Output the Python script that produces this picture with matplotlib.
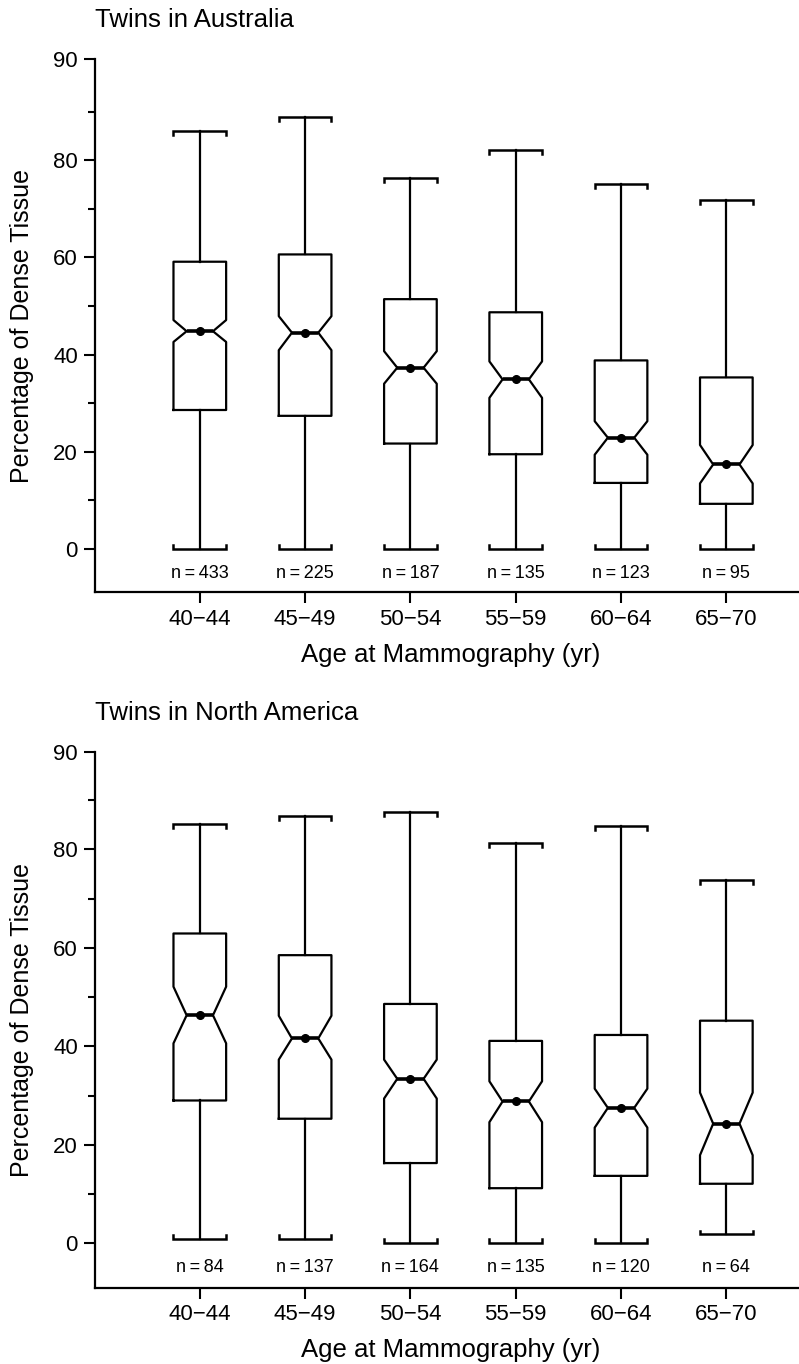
import matplotlib.pyplot as plt
import numpy as np

plt.rcParams['font.family'] = ['Liberation Sans', 'DejaVu Sans']

ages = ['40\u221244', '45\u221249', '50\u221254', '55\u221259', '60\u221264', '65\u221270']

# Twins in Australia
aus_n = [433, 225, 187, 135, 123, 95]
aus_low = [0.0, 0.0, 0.0, 0.0, 0.0, 0.0]
aus_q1 = [28.6, 27.4, 21.7, 19.5, 13.6, 9.3]
aus_ci_lo = [42.6, 40.9, 34.0, 31.1, 19.4, 13.5]
aus_med = [44.8, 44.5, 37.3, 34.9, 22.9, 17.4]
aus_ci_hi = [47.1, 47.9, 40.7, 38.6, 26.3, 21.4]
aus_q3 = [59.1, 60.6, 51.4, 48.7, 38.8, 35.3]
aus_high = [86.0, 88.9, 76.4, 82.1, 75.0, 71.8]

# Twins in North America
na_n = [84, 137, 164, 135, 120, 64]
na_low = [0.8, 0.8, 0.1, 0.1, 0.1, 1.8]
na_q1 = [29.0, 25.3, 16.3, 11.2, 13.7, 12.1]
na_ci_lo = [40.6, 37.3, 29.4, 24.6, 23.5, 17.9]
na_med = [46.3, 41.6, 33.4, 28.8, 27.5, 24.3]
na_ci_hi = [52.1, 46.2, 37.3, 32.9, 31.4, 30.6]
na_q3 = [62.9, 58.5, 48.6, 41.1, 42.3, 45.2]
na_high = [85.1, 86.8, 87.6, 81.3, 84.8, 73.8]

W = 799 / 100
H = 1364 / 100
fig = plt.figure(figsize=(W, H), dpi=100)


def px_x(p):
    return p / 799


def px_y(p):
    return 1 - p / 1364


def panel(top_px, bot_px, ymax, ymin, title, title_y, xlabel_y,
          n, low, q1, cilo, med, cihi, q3, high):
    ax = fig.add_axes([px_x(94.5), px_y(bot_px), 1 - px_x(94.5),
                       (bot_px - top_px) / 1364])
    stats = []
    for i in range(len(ages)):
        stats.append(dict(med=med[i], q1=q1[i], q3=q3[i], whislo=low[i],
                          whishi=high[i], cilo=cilo[i], cihi=cihi[i],
                          fliers=[]))
    pos = np.arange(1, len(ages) + 1)
    lp = dict(color='black', linewidth=1.6)
    ax.bxp(stats, positions=pos, widths=0.5, shownotches=True,
           showcaps=False, boxprops=lp, whiskerprops=lp,
           medianprops=dict(color='black', linewidth=2.6),
           patch_artist=False)
    # caps with small hooks
    hook = 0.8
    for x, lo, hi in zip(pos, low, high):
        ax.plot([x - 0.25, x - 0.25, x + 0.25, x + 0.25],
                [hi - hook, hi, hi, hi - hook], color='black', lw=1.8,
                solid_joinstyle='miter')
        ax.plot([x - 0.25, x - 0.25, x + 0.25, x + 0.25],
                [lo + hook, lo, lo, lo + hook], color='black', lw=1.8,
                solid_joinstyle='miter')
    ax.plot(pos, med, 'o', color='black', markersize=5.5, zorder=5)
    for x, k in zip(pos, n):
        ax.text(x, -5, 'n\u2009=\u2009%d' % k, ha='center', va='center',
                fontsize=13)

    ax.set_xlim(0, 6.69)
    ax.set_ylim(ymin, ymax)
    ax.set_xticks(pos)
    ax.set_xticklabels(ages, fontsize=16)
    ax.set_yticks([0, 20, 40, 60, 80, ymax])
    ax.set_yticklabels(['0', '20', '40', '60', '80', '90'], fontsize=16)
    ax.set_yticks([10, 30, 50, 70, 90], minor=True)
    ax.tick_params(axis='both', which='major', length=8, width=1.5, pad=4)
    ax.tick_params(axis='y', which='minor', length=5, width=1.5)
    ax.spines['top'].set_visible(False)
    ax.spines['right'].set_visible(False)
    ax.spines['left'].set_linewidth(1.6)
    ax.spines['bottom'].set_linewidth(1.6)
    ax.spines['left'].set_bounds(ymin, ymax)

    fig.text(px_x(95), px_y(title_y), title, ha='left', va='center',
             fontsize=18.5)
    fig.text(px_x(451), px_y(xlabel_y), 'Age at Mammography (yr)',
             ha='center', va='center', fontsize=18.5)
    fig.text(px_x(22), px_y((top_px + bot_px) / 2), 'Percentage of Dense Tissue',
             ha='center', va='center', rotation=90, fontsize=18)
    return ax


panel(59, 592.3, 100.8, -8.9, 'Twins in Australia', 20, 655,
      aus_n, aus_low, aus_q1, aus_ci_lo, aus_med, aus_ci_hi, aus_q3, aus_high)
panel(751.7, 1287.7, 99.8, -9.0, 'Twins in North America', 713, 1350,
      na_n, na_low, na_q1, na_ci_lo, na_med, na_ci_hi, na_q3, na_high)

plt.savefig('out.png', dpi=100)
